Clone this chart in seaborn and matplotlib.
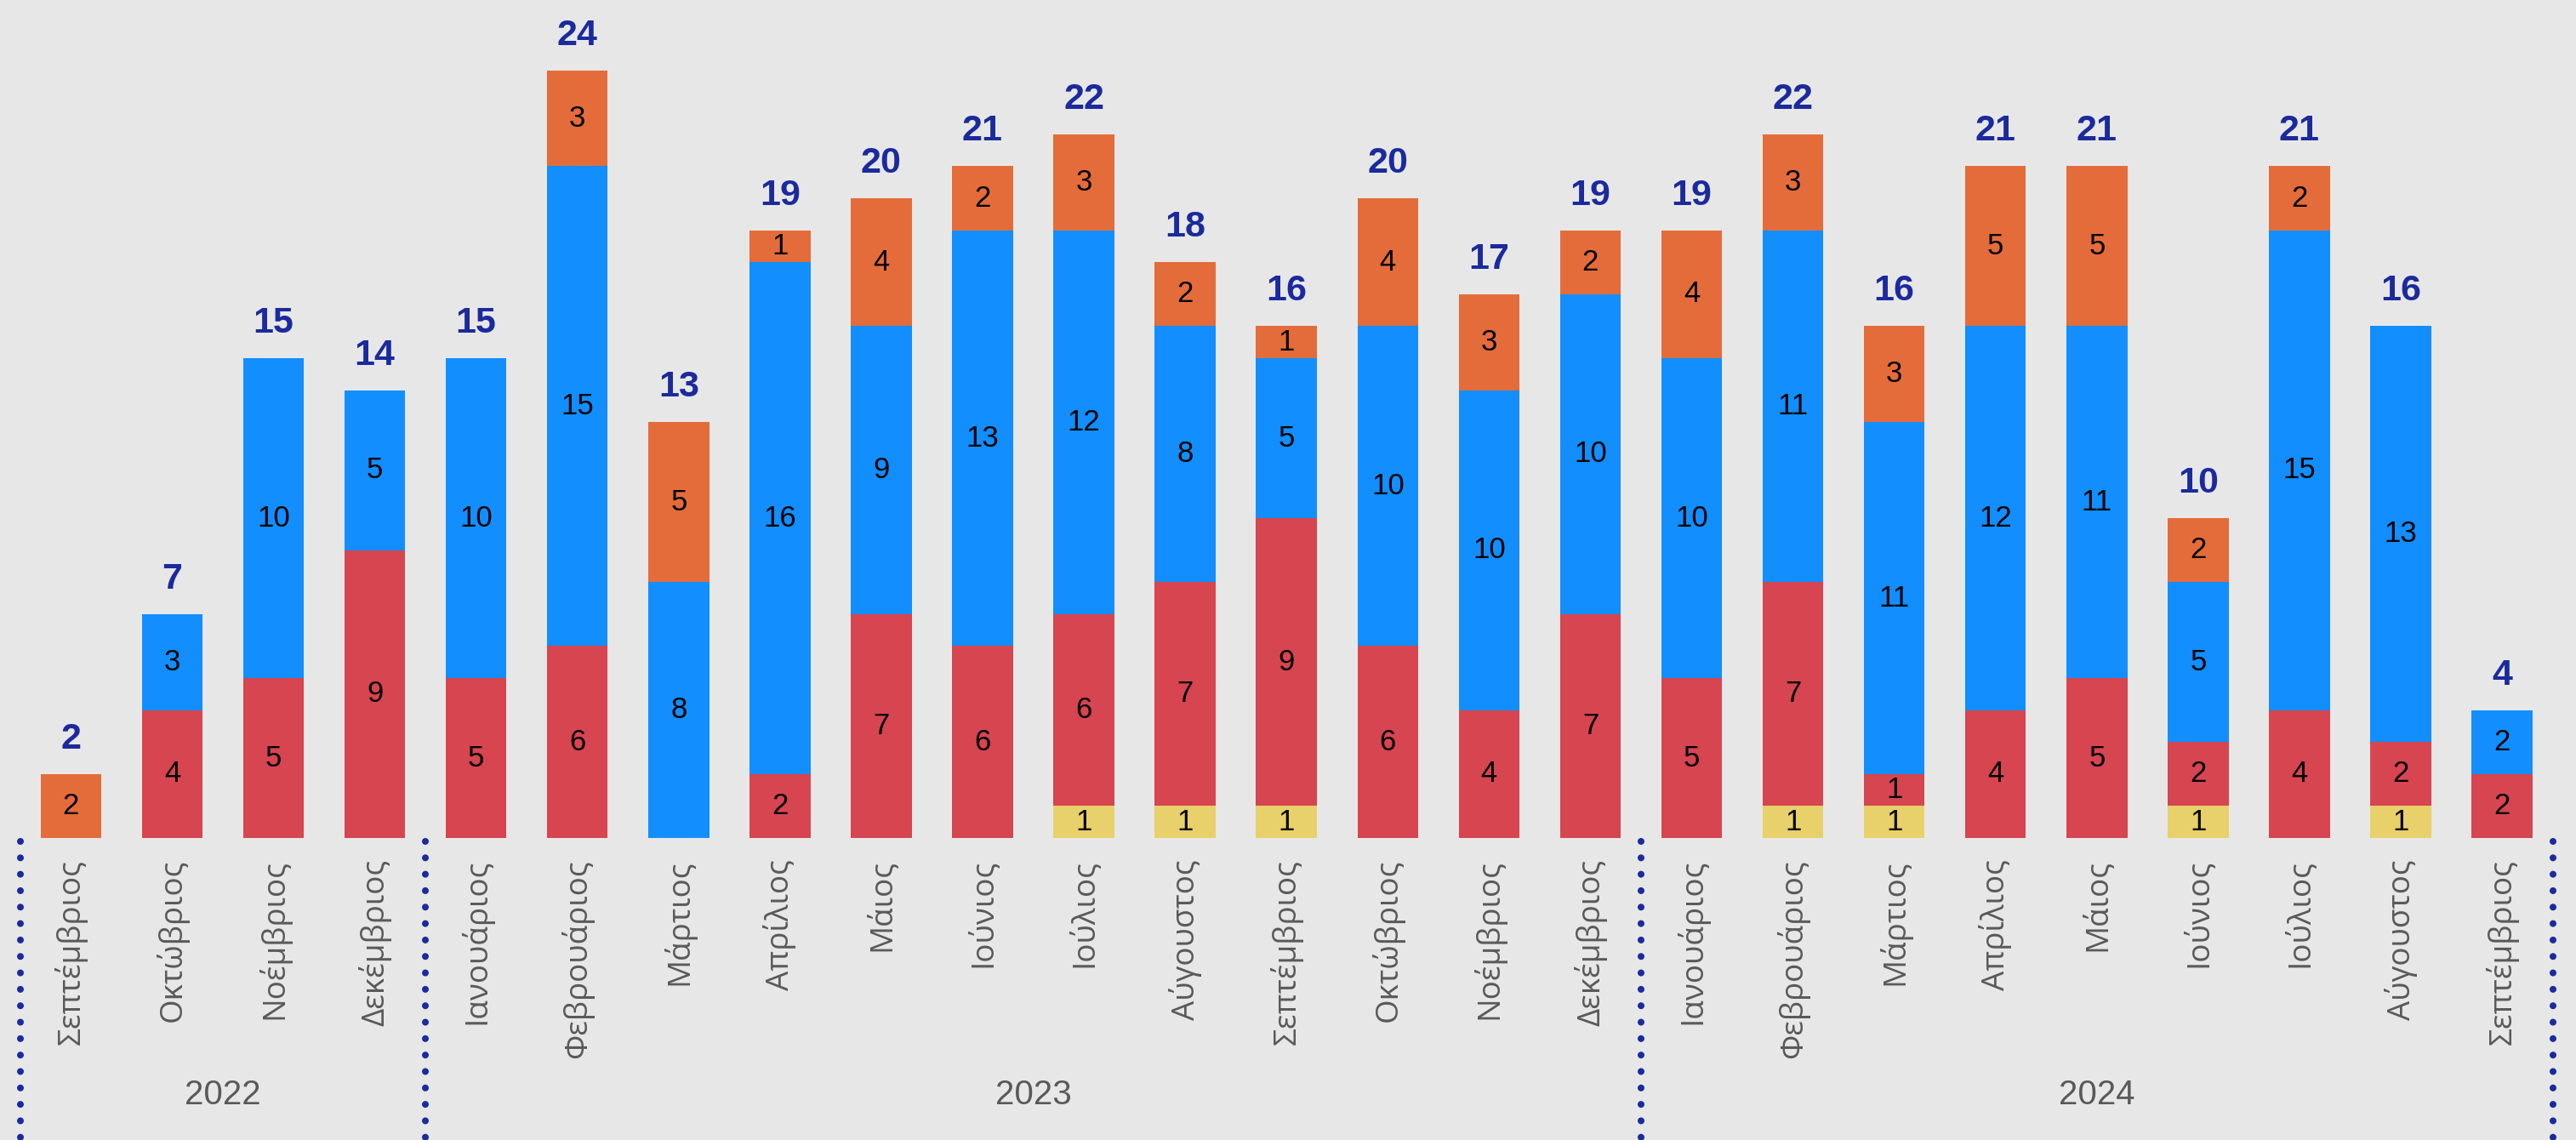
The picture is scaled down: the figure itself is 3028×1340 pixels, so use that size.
import matplotlib
matplotlib.use("Agg")
import matplotlib.pyplot as plt
import numpy as np
import pandas as pd
import seaborn as sns

# Monthly counts, Sept 2022 - Sept 2024, four stacked categories
periods = ["2022-09", "2022-10", "2022-11", "2022-12",
           "2023-01", "2023-02", "2023-03", "2023-04", "2023-05", "2023-06",
           "2023-07", "2023-08", "2023-09", "2023-10", "2023-11", "2023-12",
           "2024-01", "2024-02", "2024-03", "2024-04", "2024-05", "2024-06",
           "2024-07", "2024-08", "2024-09"]
month_labels = ["Σεπτέμβριος", "Οκτώβριος", "Νοέμβριος", "Δεκέμβριος",
                "Ιανουάριος", "Φεβρουάριος", "Μάρτιος", "Απρίλιος", "Μάιος", "Ιούνιος",
                "Ιούλιος", "Αύγουστος", "Σεπτέμβριος", "Οκτώβριος", "Νοέμβριος", "Δεκέμβριος",
                "Ιανουάριος", "Φεβρουάριος", "Μάρτιος", "Απρίλιος", "Μάιος", "Ιούνιος",
                "Ιούλιος", "Αύγουστος", "Σεπτέμβριος"]
yellow = [0, 0, 0, 0, 0, 0, 0, 0, 0, 0, 1, 1, 1, 0, 0, 0, 0, 1, 1, 0, 0, 1, 0, 1, 0]
red    = [0, 4, 5, 9, 5, 6, 0, 2, 7, 6, 6, 7, 9, 6, 4, 7, 5, 7, 1, 4, 5, 2, 4, 2, 2]
blue   = [0, 3, 10, 5, 10, 15, 8, 16, 9, 13, 12, 8, 5, 10, 10, 10, 10, 11, 11, 12, 11, 5, 15, 13, 2]
orange = [2, 0, 0, 0, 0, 3, 5, 1, 4, 2, 3, 2, 1, 4, 3, 2, 4, 3, 3, 5, 5, 2, 2, 0, 0]
year_labels = ["2022", "2023", "2024"]
year_spans = [(-0.5, 3.5), (3.5, 15.5), (15.5, 24.5)]

BG = "#E7E7E7"
NAVY = "#1B2A9C"
GREY = "#595959"
colors = {"yellow": "#E8D06A", "red": "#D64550", "blue": "#128EFF", "orange": "#E46C3A"}

sns.set_theme(style="white")
plt.rcParams["font.family"] = ["Open Sans", "DejaVu Sans"]
plt.rcParams["lines.scale_dashes"] = False
NARROW = ["Liberation Sans Narrow", "Liberation Sans", "DejaVu Sans"]

df = pd.DataFrame({"period": periods, "yellow": yellow, "red": red,
                   "blue": blue, "orange": orange})
layers = ["yellow", "red", "blue", "orange"]
cum = df[layers].cumsum(axis=1)
df["total"] = cum["orange"]

fig = plt.figure(figsize=(30.28, 13.40), dpi=100, facecolor=BG)
ax = fig.add_axes([0, 355 / 1340, 1, 985 / 1340])
ax.set_facecolor(BG)

# Stack by overdrawing cumulative heights, tallest first
for layer in reversed(layers):
    sns.barplot(x=df["period"], y=cum[layer], color=colors[layer], width=0.6,
                saturation=1, order=periods, ax=ax, linewidth=0)

# Segment labels and totals
for i in range(len(periods)):
    base = 0
    for layer in layers:
        v = df[layer].iloc[i]
        if v > 0:
            ax.text(i, base + v / 2, f"{v}", ha="center", va="center",
                    fontsize=25, color="black", family=NARROW)
        base += v
    ax.annotate(f"{df['total'].iloc[i]}", (i, df["total"].iloc[i]),
                xytext=(0, 21.6), textcoords="offset points",
                ha="center", va="baseline", fontsize=31, fontweight="bold",
                color=NAVY, family=NARROW)

ax.set_xlim(-0.70, 24.73)
ax.set_ylim(0, 26.2)
ax.set_xlabel("")
ax.set_ylabel("")
ax.set_yticks([])
ax.set_xticks(range(len(periods)))
ax.set_xticklabels(month_labels, rotation=90, fontsize=26.5, color=GREY)
ax.tick_params(axis="x", length=0, pad=18)
for s in ax.spines.values():
    s.set_visible(False)

# Year separators and year labels below the axis
trans = ax.get_xaxis_transform()
bottom = -355 / 985
for x in [-0.5, 3.5, 15.5, 24.5]:
    ax.plot([x, x], [-0.004, bottom], transform=trans, clip_on=False,
            color=NAVY, lw=5.8, linestyle=(0, (0.01, 13.9)),
            dash_capstyle="round")
for lbl, (a, b) in zip(year_labels, year_spans):
    ax.text((a + b) / 2, -(1287 - 985) / 985, lbl, transform=trans,
            ha="center", va="center", fontsize=29, color=GREY, family=NARROW)

fig.savefig("out.png", dpi=100, facecolor=BG)
